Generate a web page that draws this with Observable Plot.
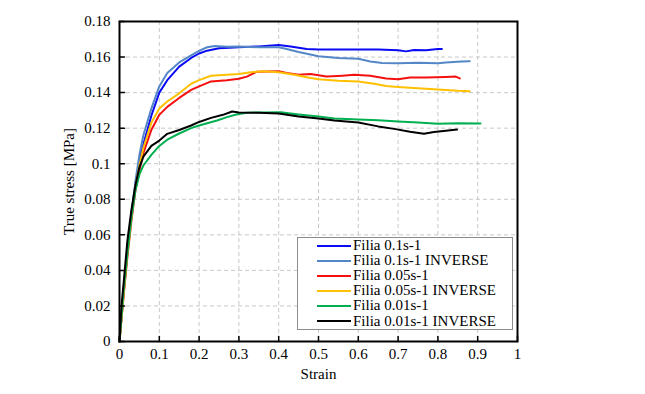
<!DOCTYPE html>
<html><head><meta charset="utf-8">
<script src="https://cdn.jsdelivr.net/npm/d3@7"></script>
<script src="https://cdn.jsdelivr.net/npm/@observablehq/plot@0.6"></script>
<style>
body{margin:0;background:#fff;}
#wrap{position:relative;width:645px;height:394px;font-family:"Liberation Serif","DejaVu Serif",serif;color:#000;}
#chart svg text{font-family:"Liberation Serif","DejaVu Serif",serif;}
#legend{position:absolute;left:297px;top:237px;width:216px;height:93px;box-sizing:border-box;border:1px solid #8c8c8c;background:#fff;padding-top:0px;}
.row{display:flex;align-items:center;height:15.1px;font-size:15px;line-height:15px;white-space:nowrap;}
.sw{width:34px;height:0;border-top:2.5px solid;margin-left:19px;margin-right:2px;}
</style>
</head><body>
<div id="wrap"><div id="chart"></div><div id="legend"></div></div>
<script>
const seriesNames = ["Filia 0.1s-1","Filia 0.1s-1 INVERSE","Filia 0.05s-1","Filia 0.05s-1 INVERSE","Filia 0.01s-1","Filia 0.01s-1 INVERSE"];
const seriesColors = ["#0a0af5","#5487c8","#f51010","#ffc000","#00b050","#000000"];
const xTicks = [0,0.1,0.2,0.3,0.4,0.5,0.6,0.7,0.8,0.9,1];
const yTicks = [0,0.02,0.04,0.06,0.08,0.1,0.12,0.14,0.16,0.18];

const filia01 = [[0,0],[0.01,0.028],[0.02,0.052],[0.03,0.072],[0.04,0.088],[0.05,0.102],[0.06,0.111],[0.07,0.119],[0.08,0.127],[0.1,0.140],[0.12,0.147],[0.15,0.1546],[0.18,0.1595],[0.2,0.162],[0.22,0.1636],[0.25,0.165],[0.3,0.1655],[0.35,0.166],[0.4,0.1668],[0.43,0.166],[0.47,0.1645],[0.5,0.1642],[0.55,0.1643],[0.6,0.1642],[0.65,0.1642],[0.7,0.1638],[0.72,0.1632],[0.74,0.164],[0.77,0.1638],[0.8,0.1645],[0.81,0.1645]];
const filia01inv = [[0,0],[0.01,0.026],[0.02,0.05],[0.03,0.072],[0.04,0.09],[0.05,0.105],[0.06,0.116],[0.08,0.131],[0.1,0.1435],[0.12,0.151],[0.15,0.157],[0.18,0.161],[0.2,0.1635],[0.22,0.1655],[0.24,0.1662],[0.27,0.1658],[0.3,0.166],[0.35,0.1655],[0.4,0.1655],[0.42,0.1645],[0.45,0.1628],[0.5,0.1605],[0.55,0.1595],[0.6,0.159],[0.63,0.1575],[0.66,0.1567],[0.7,0.1565],[0.75,0.1568],[0.8,0.1565],[0.82,0.157],[0.86,0.1575],[0.88,0.1577]];
const filia005 = [[0,0],[0.01,0.025],[0.02,0.048],[0.03,0.068],[0.04,0.085],[0.05,0.096],[0.06,0.106],[0.08,0.119],[0.1,0.1275],[0.12,0.132],[0.15,0.137],[0.18,0.1415],[0.2,0.1435],[0.23,0.1463],[0.27,0.147],[0.3,0.1478],[0.32,0.149],[0.345,0.1518],[0.4,0.152],[0.42,0.151],[0.45,0.150],[0.48,0.1505],[0.52,0.149],[0.56,0.1495],[0.59,0.150],[0.63,0.1495],[0.67,0.148],[0.7,0.1475],[0.73,0.1485],[0.77,0.1485],[0.82,0.1488],[0.845,0.149],[0.855,0.148]];
const filia005inv = [[0,0],[0.01,0.026],[0.02,0.05],[0.03,0.07],[0.04,0.087],[0.05,0.099],[0.06,0.109],[0.08,0.123],[0.1,0.131],[0.12,0.135],[0.15,0.1396],[0.18,0.145],[0.2,0.147],[0.23,0.1495],[0.27,0.150],[0.3,0.1505],[0.33,0.1515],[0.36,0.152],[0.4,0.1515],[0.44,0.150],[0.47,0.1487],[0.5,0.1475],[0.55,0.1467],[0.6,0.1463],[0.64,0.145],[0.67,0.1437],[0.7,0.1432],[0.75,0.1425],[0.8,0.1418],[0.85,0.141],[0.88,0.1408]];
const filia001 = [[0,0],[0.01,0.028],[0.02,0.05],[0.03,0.07],[0.04,0.085],[0.05,0.094],[0.06,0.099],[0.08,0.105],[0.1,0.11],[0.12,0.1135],[0.15,0.117],[0.18,0.12],[0.2,0.1215],[0.245,0.1243],[0.27,0.1262],[0.296,0.1278],[0.32,0.1287],[0.36,0.1288],[0.405,0.129],[0.45,0.1277],[0.5,0.1265],[0.54,0.1255],[0.6,0.1249],[0.65,0.1245],[0.7,0.1238],[0.75,0.1232],[0.8,0.1225],[0.85,0.1228],[0.907,0.1226]];
const filia001inv = [[0,0],[0.005,0.02],[0.01,0.032],[0.02,0.057],[0.03,0.074],[0.04,0.088],[0.05,0.098],[0.06,0.104],[0.08,0.11],[0.1,0.113],[0.12,0.1168],[0.15,0.119],[0.18,0.1215],[0.2,0.1235],[0.23,0.1258],[0.26,0.1275],[0.283,0.1294],[0.3,0.1288],[0.35,0.1287],[0.4,0.1283],[0.45,0.1266],[0.5,0.1255],[0.54,0.1243],[0.6,0.1232],[0.65,0.121],[0.69,0.1196],[0.73,0.118],[0.765,0.1168],[0.79,0.1178],[0.82,0.1185],[0.848,0.1192]];

const allSeries = [filia01, filia01inv, filia005, filia005inv, filia001, filia001inv];
const data = allSeries.flatMap((pts, i) => pts.map(([x, y]) => ({x, y, series: seriesNames[i]})));

const tickShape = {draw(context, l) { context.moveTo(0, 0); context.lineTo(0, -l); }};
const fmt = d => String(d);

const chart = Plot.plot({
  width: 645, height: 394,
  marginLeft: 119, marginRight: 128, marginTop: 21, marginBottom: 53,
  style: {fontFamily: "Liberation Serif, DejaVu Serif, serif", fontSize: "15px", color: "#000", background: "#fff"},
  x: {domain: [0, 1]},
  y: {domain: [0, 0.18]},
  color: {domain: seriesNames, range: seriesColors},
  marks: [
    Plot.gridX(xTicks, {stroke: "#c8c8c8", strokeOpacity: 1, strokeDasharray: "4,3"}),
    Plot.gridY(yTicks, {stroke: "#c8c8c8", strokeOpacity: 1, strokeDasharray: "4,3"}),
    Plot.line(data, {x: "x", y: "y", z: "series", stroke: "series", strokeWidth: 2, curve: "linear"}),
    Plot.frame({stroke: "#000", strokeWidth: 2}),
    Plot.vector(xTicks, {x: d => d, y: 0, length: 5, rotate: 0, anchor: "start", shape: tickShape, stroke: "#000", strokeWidth: 1.5}),
    Plot.vector(yTicks, {x: 0, y: d => d, length: 5, rotate: 90, anchor: "start", shape: tickShape, stroke: "#000", strokeWidth: 1.5}),
    Plot.axisX(xTicks, {tickSize: 0, tickPadding: 7, tickFormat: fmt, label: "Strain", labelAnchor: "center", labelOffset: 37, labelArrow: "none"}),
    Plot.axisY(yTicks, {tickSize: 0, tickPadding: 9, tickFormat: fmt, label: "True stress [MPa]", labelAnchor: "center", labelOffset: 56, labelArrow: "none"})
  ]
});
document.getElementById("chart").appendChild(chart);

const legend = document.getElementById("legend");
seriesNames.forEach((name, i) => {
  const row = document.createElement("div");
  row.className = "row";
  const sw = document.createElement("span");
  sw.className = "sw";
  sw.style.borderTopColor = seriesColors[i];
  const t = document.createElement("span");
  t.textContent = name;
  row.appendChild(sw); row.appendChild(t);
  legend.appendChild(row);
});
</script>
</body></html>
